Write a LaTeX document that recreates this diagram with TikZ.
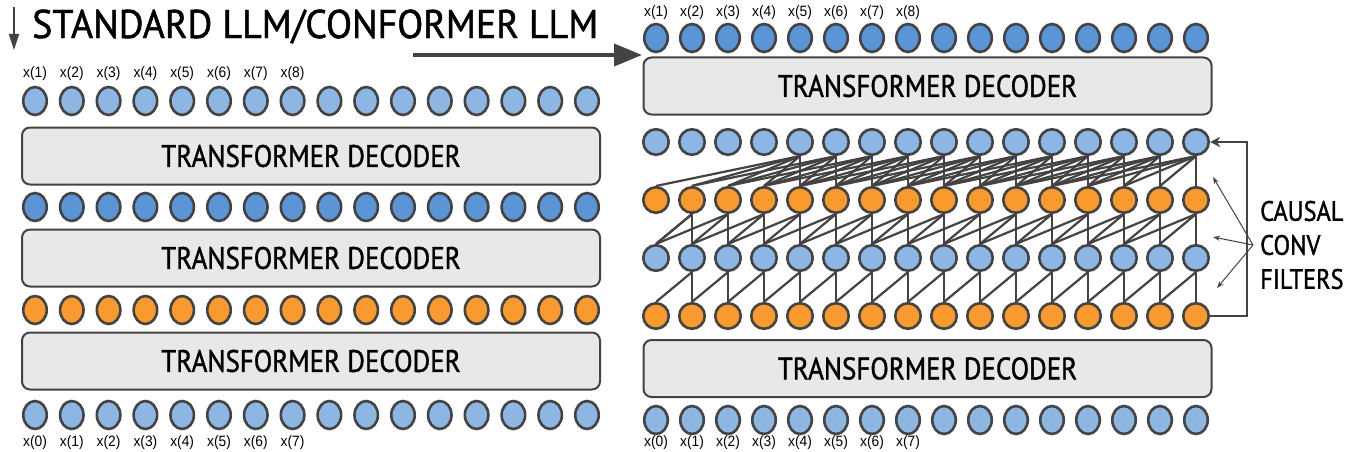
\documentclass[tikz,border=0pt]{standalone}
\usepackage{fontspec}
\setmainfont{Liberation Sans}
\newfontfamily\headfont[FakeStretch=0.87,FakeBold=1.2]{PT Sans}
\newfontfamily\titlefont[FakeStretch=0.95,FakeBold=1.2]{PT Sans}
\newfontfamily\labfont[FakeStretch=0.92]{Liberation Sans}
\usepackage{xcolor}
\usetikzlibrary{arrows.meta,matrix,shapes.geometric}

\definecolor{lightblue}{RGB}{141,182,226}
\definecolor{darkblue}{RGB}{91,149,213}
\definecolor{orangefill}{RGB}{248,154,48}
\definecolor{edgegray}{RGB}{67,67,67}
\definecolor{boxgray}{RGB}{232,232,232}

\tikzset{
  token/.style={ellipse, draw=edgegray, line width=2.6pt, inner sep=0pt,
    minimum width=23.5pt, minimum height=28pt, anchor=center},
  ctoken/.style={circle, draw=edgegray, line width=2.6pt, inner sep=0pt,
    minimum size=25.5pt, anchor=center},
  lbl/.style={rectangle, draw=none, fill=none, inner sep=0pt,
    minimum width=0pt, minimum height=0pt,
    font=\labfont\fontsize{15}{15}\selectfont},
  tokrow/.style={matrix of nodes, nodes in empty cells,
    column sep={36.8pt,between origins}},
  decoder/.style={draw=edgegray, line width=2pt, fill=boxgray,
    rounded corners=8pt, inner sep=0pt, minimum height=57pt,
    font=\headfont\fontsize{31}{31}\selectfont},
  conn/.style={draw=edgegray, line width=2.2pt},
  bigarrow/.style={draw=edgegray, line width=4pt,
    -{Triangle[length=28pt,width=22pt]}},
  fanarrow/.style={draw=edgegray, line width=1pt,
    -{Stealth[length=7pt,width=5pt]}},
}

\begin{document}
\begin{tikzpicture}[x=1pt,y=-1pt]
\useasboundingbox (0,0) rectangle (1351,452);

% heading and arrows
\node[anchor=base west, inner sep=0pt,
  font=\titlefont\fontsize{40}{40}\selectfont] (head) at (32,38)
  {STANDARD LLM/CONFORMER LLM};
\coordinate (downA) at (14,7);
\coordinate (downB) at (14,50);
\draw[draw=edgegray, line width=2pt, -{Triangle[length=16pt,width=10pt]}]
  (downA) -- (downB);
\coordinate (toconf) at (413,55);
\coordinate (confin) at (642,55);
\draw[bigarrow] (toconf) -- (confin);

% standard LLM
\matrix (lt) [tokrow, row sep={27pt,between origins},
  nodes={token, fill=lightblue}, row 1/.style={nodes={lbl}},
  matrix anchor=lt-2-1.center] at (35,101)
{
  x(1) & x(2) & x(3) & x(4) & x(5) & x(6) & x(7) & x(8) & & & & & & & & \\
  & & & & & & & & & & & & & & & \\
};
\node[decoder, minimum width=578pt] (ldec1) at (311,156) {TRANSFORMER DECODER};
\matrix (lb) [tokrow, nodes={token, fill=darkblue},
  matrix anchor=lb-1-1.center] at (35,207)
{
  & & & & & & & & & & & & & & & \\
};
\node[decoder, minimum width=578pt] (ldec2) at (311,258) {TRANSFORMER DECODER};
\matrix (lo) [tokrow, nodes={token, fill=orangefill},
  matrix anchor=lo-1-1.center] at (35,310)
{
  & & & & & & & & & & & & & & & \\
};
\node[decoder, minimum width=578pt] (ldec3) at (311,361) {TRANSFORMER DECODER};
\matrix (lx) [tokrow, row sep={28pt,between origins},
  nodes={token, fill=lightblue}, row 2/.style={nodes={lbl}},
  matrix anchor=lx-1-1.center] at (35,415)
{
  & & & & & & & & & & & & & & & \\
  x(0) & x(1) & x(2) & x(3) & x(4) & x(5) & x(6) & x(7) & & & & & & & & \\
};

% conformer LLM
\matrix (rt) [tokrow, column sep={36pt,between origins},
  row sep={25pt,between origins},
  nodes={token, fill=darkblue}, row 1/.style={nodes={lbl}},
  matrix anchor=rt-2-1.center] at (656,38)
{
  x(1) & x(2) & x(3) & x(4) & x(5) & x(6) & x(7) & x(8) & & & & & & & & \\
  & & & & & & & & & & & & & & & \\
};
\node[decoder, minimum width=568pt] (rdec1) at (927.5,86) {TRANSFORMER DECODER};
\matrix (cv) [tokrow, column sep={36pt,between origins},
  row sep={58pt,between origins}, nodes={ctoken},
  row 1/.style={nodes={fill=lightblue}},
  row 2/.style={nodes={fill=orangefill}},
  row 3/.style={nodes={fill=lightblue}},
  row 4/.style={nodes={fill=orangefill}},
  matrix anchor=cv-1-1.center] at (656,142)
{
  & & & & & & & & & & & & & & & \\
  & & & & & & & & & & & & & & & \\
  & & & & & & & & & & & & & & & \\
  & & & & & & & & & & & & & & & \\
};
\node[decoder, minimum width=568pt] (rdec2) at (927.5,368.5) {TRANSFORMER DECODER};
\matrix (rx) [tokrow, column sep={36pt,between origins},
  row sep={23pt,between origins},
  nodes={token, fill=lightblue}, row 2/.style={nodes={lbl}},
  matrix anchor=rx-1-1.center] at (656,420)
{
  & & & & & & & & & & & & & & & \\
  x(0) & x(1) & x(2) & x(3) & x(4) & x(5) & x(6) & x(7) & & & & & & & & \\
};

% causal conv filters
\foreach \j in {5,...,16}
  \foreach \d in {0,...,4}{
    \pgfmathtruncatemacro\k{\j-\d}
    \draw[conn] (cv-1-\j.south) -- (cv-2-\k.north);
  }
\foreach \j in {2,...,16}
  \foreach \d in {0,...,2}{
    \pgfmathtruncatemacro\k{max(1,\j-\d)}
    \draw[conn] (cv-2-\j.south) -- (cv-3-\k.north);
  }
\foreach \j in {2,...,16}
  \foreach \d in {0,1}{
    \pgfmathtruncatemacro\k{\j-\d}
    \draw[conn] (cv-3-\j.south) -- (cv-4-\k.north);
  }

\draw[draw=edgegray, line width=2.2pt, -{Stealth[length=10pt,width=10pt,inset=3pt]}]
  (cv-4-16.east) -- ++(37,0) |- (cv-1-16.east);

\node[anchor=west, inner sep=0pt, align=left,
  font=\headfont\fontsize{28}{34}\selectfont] (filters) at (1260,245)
  {CAUSAL\\CONV\\FILTERS};
\coordinate (fan) at (1253,245);
\coordinate (tipA) at (1213,177);
\coordinate (tipB) at (1213,237);
\coordinate (tipC) at (1217,288);
\foreach \t in {tipA,tipB,tipC}
  \draw[fanarrow] (fan) -- (\t);
\end{tikzpicture}
\end{document}
